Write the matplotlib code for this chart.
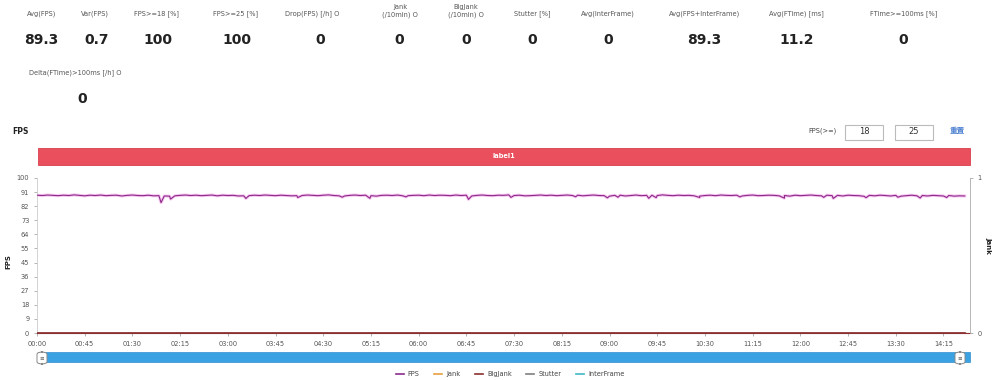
import matplotlib
matplotlib.use("Agg")
import matplotlib.pyplot as plt
from matplotlib.patches import FancyBboxPatch, Rectangle
from matplotlib.lines import Line2D

plt.rcParams['font.family'] = ['DejaVu Sans', 'Noto Sans CJK SC']

# ---------------- data ----------------
stat_labels = ["Avg(FPS)", "Var(FPS)", "FPS>=18 [%]", "FPS>=25 [%]", "Drop(FPS) [/h] O",
               "Jank\n(/10min) O", "BigJank\n(/10min) O", "Stutter [%]", "Avg(InterFrame)",
               "Avg(FPS+InterFrame)", "Avg(FTime) [ms]", "FTime>=100ms [%]"]
stat_values = ["89.3", "0.7", "100", "100", "0", "0", "0", "0", "0", "89.3", "11.2", "0"]
stat2_label = "Delta(FTime)>100ms [/h] O"
stat2_value = "0"

# FPS base samples every 5 s (0 .. 875 s)
base_times = list(range(0, 880, 5))
base_values = [
    88.9, 88.7, 89.0, 88.8, 88.6, 88.9, 88.7, 89.1, 88.8, 88.5,
    88.9, 88.7, 89.0, 88.6, 88.8, 88.9, 88.4, 88.8, 89.0, 88.7,
    88.6, 88.9, 88.5, 88.6, 88.4, 88.3, 88.5, 88.8, 89.0, 88.7,
    88.9, 88.6, 88.8, 89.0, 88.5, 88.9, 88.7, 88.8, 88.4, 88.5,
    88.6, 88.9, 88.7, 89.0, 88.8, 88.6, 88.9, 88.7, 88.5, 88.6,
    88.7, 89.0, 88.8, 88.6, 88.9, 89.1, 88.7, 88.5, 88.4, 88.8,
    89.0, 88.7, 88.9, 88.6, 88.3, 88.8, 88.9, 88.7, 89.0, 88.5,
    88.6, 88.8, 88.9, 88.6, 89.0, 88.7, 88.9, 88.8, 88.6, 89.0,
    88.7, 88.9, 88.4, 88.8, 89.0, 88.7, 88.6, 88.9, 88.8, 89.1,
    88.7, 88.9, 88.5, 88.6, 88.8, 89.0, 88.7, 88.9, 88.6, 88.8,
    89.0, 88.7, 88.9, 88.5, 88.8, 89.0, 88.7, 88.6, 88.3, 88.8,
    88.9, 88.4, 88.7, 89.0, 88.6, 88.8, 88.9, 88.7, 89.1, 88.8,
    88.6, 88.9, 88.7, 88.8, 88.5, 88.3, 88.7, 88.9, 88.6, 89.0,
    88.8, 88.7, 88.9, 88.4, 88.8, 89.0, 88.6, 88.7, 88.9, 88.8,
    88.5, 88.7, 88.3, 88.9, 88.6, 88.8, 89.0, 88.7, 88.5, 88.9,
    88.6, 88.8, 88.4, 88.9, 88.7, 88.6, 88.2, 88.8, 88.5, 88.9,
    88.7, 88.4, 88.8, 88.3, 88.6, 88.9, 88.5, 88.7, 88.4, 88.8,
    88.6, 88.4, 88.7, 88.3, 88.5, 88.4,
]
# short drops (seconds, fps)
dip_times = [117, 126, 197, 246, 288, 314, 348, 407, 447, 508, 538, 548,
             577, 584, 625, 663, 705, 742, 751, 782, 812, 833, 858]
dip_values = [84.1, 86.4, 86.8, 87.4, 87.6, 86.9, 87.8, 86.2, 87.5, 87.9, 87.2, 87.6,
              86.9, 87.3, 87.4, 87.8, 87.0, 87.5, 86.8, 87.3, 87.6, 87.1, 87.4]

zero_times = [0, 875]
jank_values = [0, 0]
bigjank_values = [0, 0]
stutter_values = [0, 0]
interframe_values = [0, 0]

x_tick_labels = ["00:00", "00:45", "01:30", "02:15", "03:00", "03:45", "04:30", "05:15",
                 "06:00", "06:45", "07:30", "08:15", "09:00", "09:45", "10:30", "11:15",
                 "12:00", "12:45", "13:30", "14:15"]
y_tick_labels = ["0", "9", "18", "27", "36", "45", "55", "64", "73", "82", "91", "100"]
legend_names = ["FPS", "Jank", "BigJank", "Stutter", "InterFrame"]
legend_colors = ["#8e2a8a", "#e8a040", "#8b2f2f", "#7f7f7f", "#3fb8c8"]
label_bar_text = "label1"
fps_thresholds = ["18", "25"]

# merge base samples with short drops
fps_pairs = sorted(list(zip(base_times, base_values)) + list(zip(dip_times, dip_values)))
fps_times = [p[0] for p in fps_pairs]
fps_values = [p[1] for p in fps_pairs]

# ---------------- figure ----------------
W, H = 1002, 380
fig = plt.figure(figsize=(W / 100, H / 100), dpi=100)
fig.patch.set_facecolor("white")

def fx(px):
    return px / W

def fy(py):
    return 1 - py / H

# header stats
label_x = [42, 95, 157, 236, 312, 400, 466, 532, 608, 705, 796, 904]
for lx, lab in zip(label_x, stat_labels):
    if "\n" in lab:
        fig.text(fx(lx), fy(11), lab, ha="center", va="center", fontsize=4.8, color="#555555",
                 linespacing=1.3)
    else:
        fig.text(fx(lx), fy(14), lab, ha="center", va="center", fontsize=4.8, color="#555555")
for lx, val in zip([41, 97, 158, 237, 320, 399, 466, 532, 608, 704, 797, 903], stat_values):
    fig.text(fx(lx), fy(40), val, ha="center", va="center", fontsize=10, fontweight="bold",
             color="#222222")
fig.text(fx(75), fy(73), stat2_label, ha="center", va="center", fontsize=4.8, color="#555555")
fig.text(fx(82), fy(99), stat2_value, ha="center", va="center", fontsize=10, fontweight="bold",
         color="#222222")

# FPS title and threshold controls
fig.text(fx(12), fy(131), "FPS", ha="left", va="center", fontsize=5.5, fontweight="bold",
         color="#222222")
fig.text(fx(808), fy(131), "FPS(>=)", ha="left", va="center", fontsize=4.8, color="#444444")
for bx, val in zip([845, 895], fps_thresholds):
    fig.patches.append(Rectangle((fx(bx), fy(140)), fx(38), 15 / H, transform=fig.transFigure,
                                 facecolor="white", edgecolor="#bbbbbb", linewidth=0.8))
    fig.text(fx(bx + 19), fy(132), val, ha="center", va="center", fontsize=6, color="#333333")
fig.text(fx(957), fy(131), "重置", ha="center", va="center", fontsize=5.5, color="#4a7fd0",
         fontweight="bold")

# red label bar
fig.patches.append(Rectangle((fx(38), fy(165)), fx(932), 17 / H, transform=fig.transFigure,
                             facecolor="#ea4f5e", edgecolor="#d8404f", linewidth=0.6))
fig.text(fx(504), fy(156.5), label_bar_text, ha="center", va="center", fontsize=4.8,
         color="white", fontweight="bold")

# main axes
ax = fig.add_axes([fx(37), fy(333), fx(970 - 37), (333 - 178) / H])
ax.plot(fps_times, fps_values, color="#f6c6f0", linewidth=2.2, zorder=2)
ax.plot(fps_times, fps_values, color=legend_colors[0], linewidth=0.8, zorder=3)
ax.plot(zero_times, interframe_values, color=legend_colors[4], linewidth=1.0, zorder=3)
ax.plot(zero_times, stutter_values, color=legend_colors[3], linewidth=1.0, zorder=3)
ax.plot(zero_times, jank_values, color=legend_colors[1], linewidth=1.0, zorder=3)
ax.plot(zero_times, bigjank_values, color=legend_colors[2], linewidth=1.2, zorder=4)

x_end = 880
ax.set_xlim(0, x_end)
ax.set_ylim(0, 100)
ax.set_xticks([45 * i for i in range(len(x_tick_labels))])
ax.set_xticklabels(x_tick_labels, fontsize=4.8, color="#555555")
ax.set_yticks([100 * i / 11 for i in range(len(y_tick_labels))])
ax.set_yticklabels(y_tick_labels, fontsize=4.8, color="#555555")
ax.tick_params(axis="both", length=2.5, width=0.5, color="#999999", pad=3)
for s in ["top", "right"]:
    ax.spines[s].set_visible(False)
ax.spines["left"].set_color("#cccccc")
ax.spines["left"].set_linewidth(0.6)
ax.spines["bottom"].set_color("#8b2f2f")
ax.spines["bottom"].set_linewidth(0.8)
fig.text(fx(8), fy(262), "FPS", rotation=90, ha="center", va="center", fontsize=5,
         fontweight="bold", color="#222222")

ax2 = ax.twinx()
ax2.set_ylim(0, 1)
ax2.set_yticks([0, 1])
ax2.set_yticklabels(["0", "1"], fontsize=4.8, color="#555555")
ax2.tick_params(axis="y", length=2.5, width=0.5, color="#999999", pad=3)
for s in ["top", "left", "bottom"]:
    ax2.spines[s].set_visible(False)
ax2.spines["right"].set_color("#aaaaaa")
ax2.spines["right"].set_linewidth(0.6)
fig.text(fx(988), fy(245), "Jank", rotation=270, ha="center", va="center", fontsize=5,
         fontweight="bold", color="#222222")

# slider bar
fig.patches.append(Rectangle((fx(38), fy(362)), fx(932), 10 / H, transform=fig.transFigure,
                             facecolor="#3aa2e2", edgecolor="#2f8fd0", linewidth=0.5))
fig.patches.append(FancyBboxPatch((fx(37), fy(364)), fx(10), 12 / H,
                                  boxstyle="round,pad=0,rounding_size=0.006",
                                  transform=fig.transFigure, facecolor="white",
                                  edgecolor="#888888", linewidth=0.7))
fig.text(fx(42), fy(358), "≡", ha="center", va="center", fontsize=4, color="#555555")
fig.patches.append(FancyBboxPatch((fx(955), fy(364)), fx(10), 12 / H,
                                  boxstyle="round,pad=0,rounding_size=0.006",
                                  transform=fig.transFigure, facecolor="white",
                                  edgecolor="#888888", linewidth=0.7))
fig.text(fx(960), fy(358), "≡", ha="center", va="center", fontsize=4, color="#555555")

# legend
handles = [Line2D([0], [0], color=c, linewidth=1.2) for c in legend_colors]
fig.legend(handles, legend_names, loc="center", bbox_to_anchor=(fx(510), fy(374)),
           ncol=5, frameon=False, fontsize=4.8, handlelength=1.2, columnspacing=2.2,
           handletextpad=0.6, labelcolor="#444444")

fig.savefig("out.png", dpi=100, facecolor="white")
